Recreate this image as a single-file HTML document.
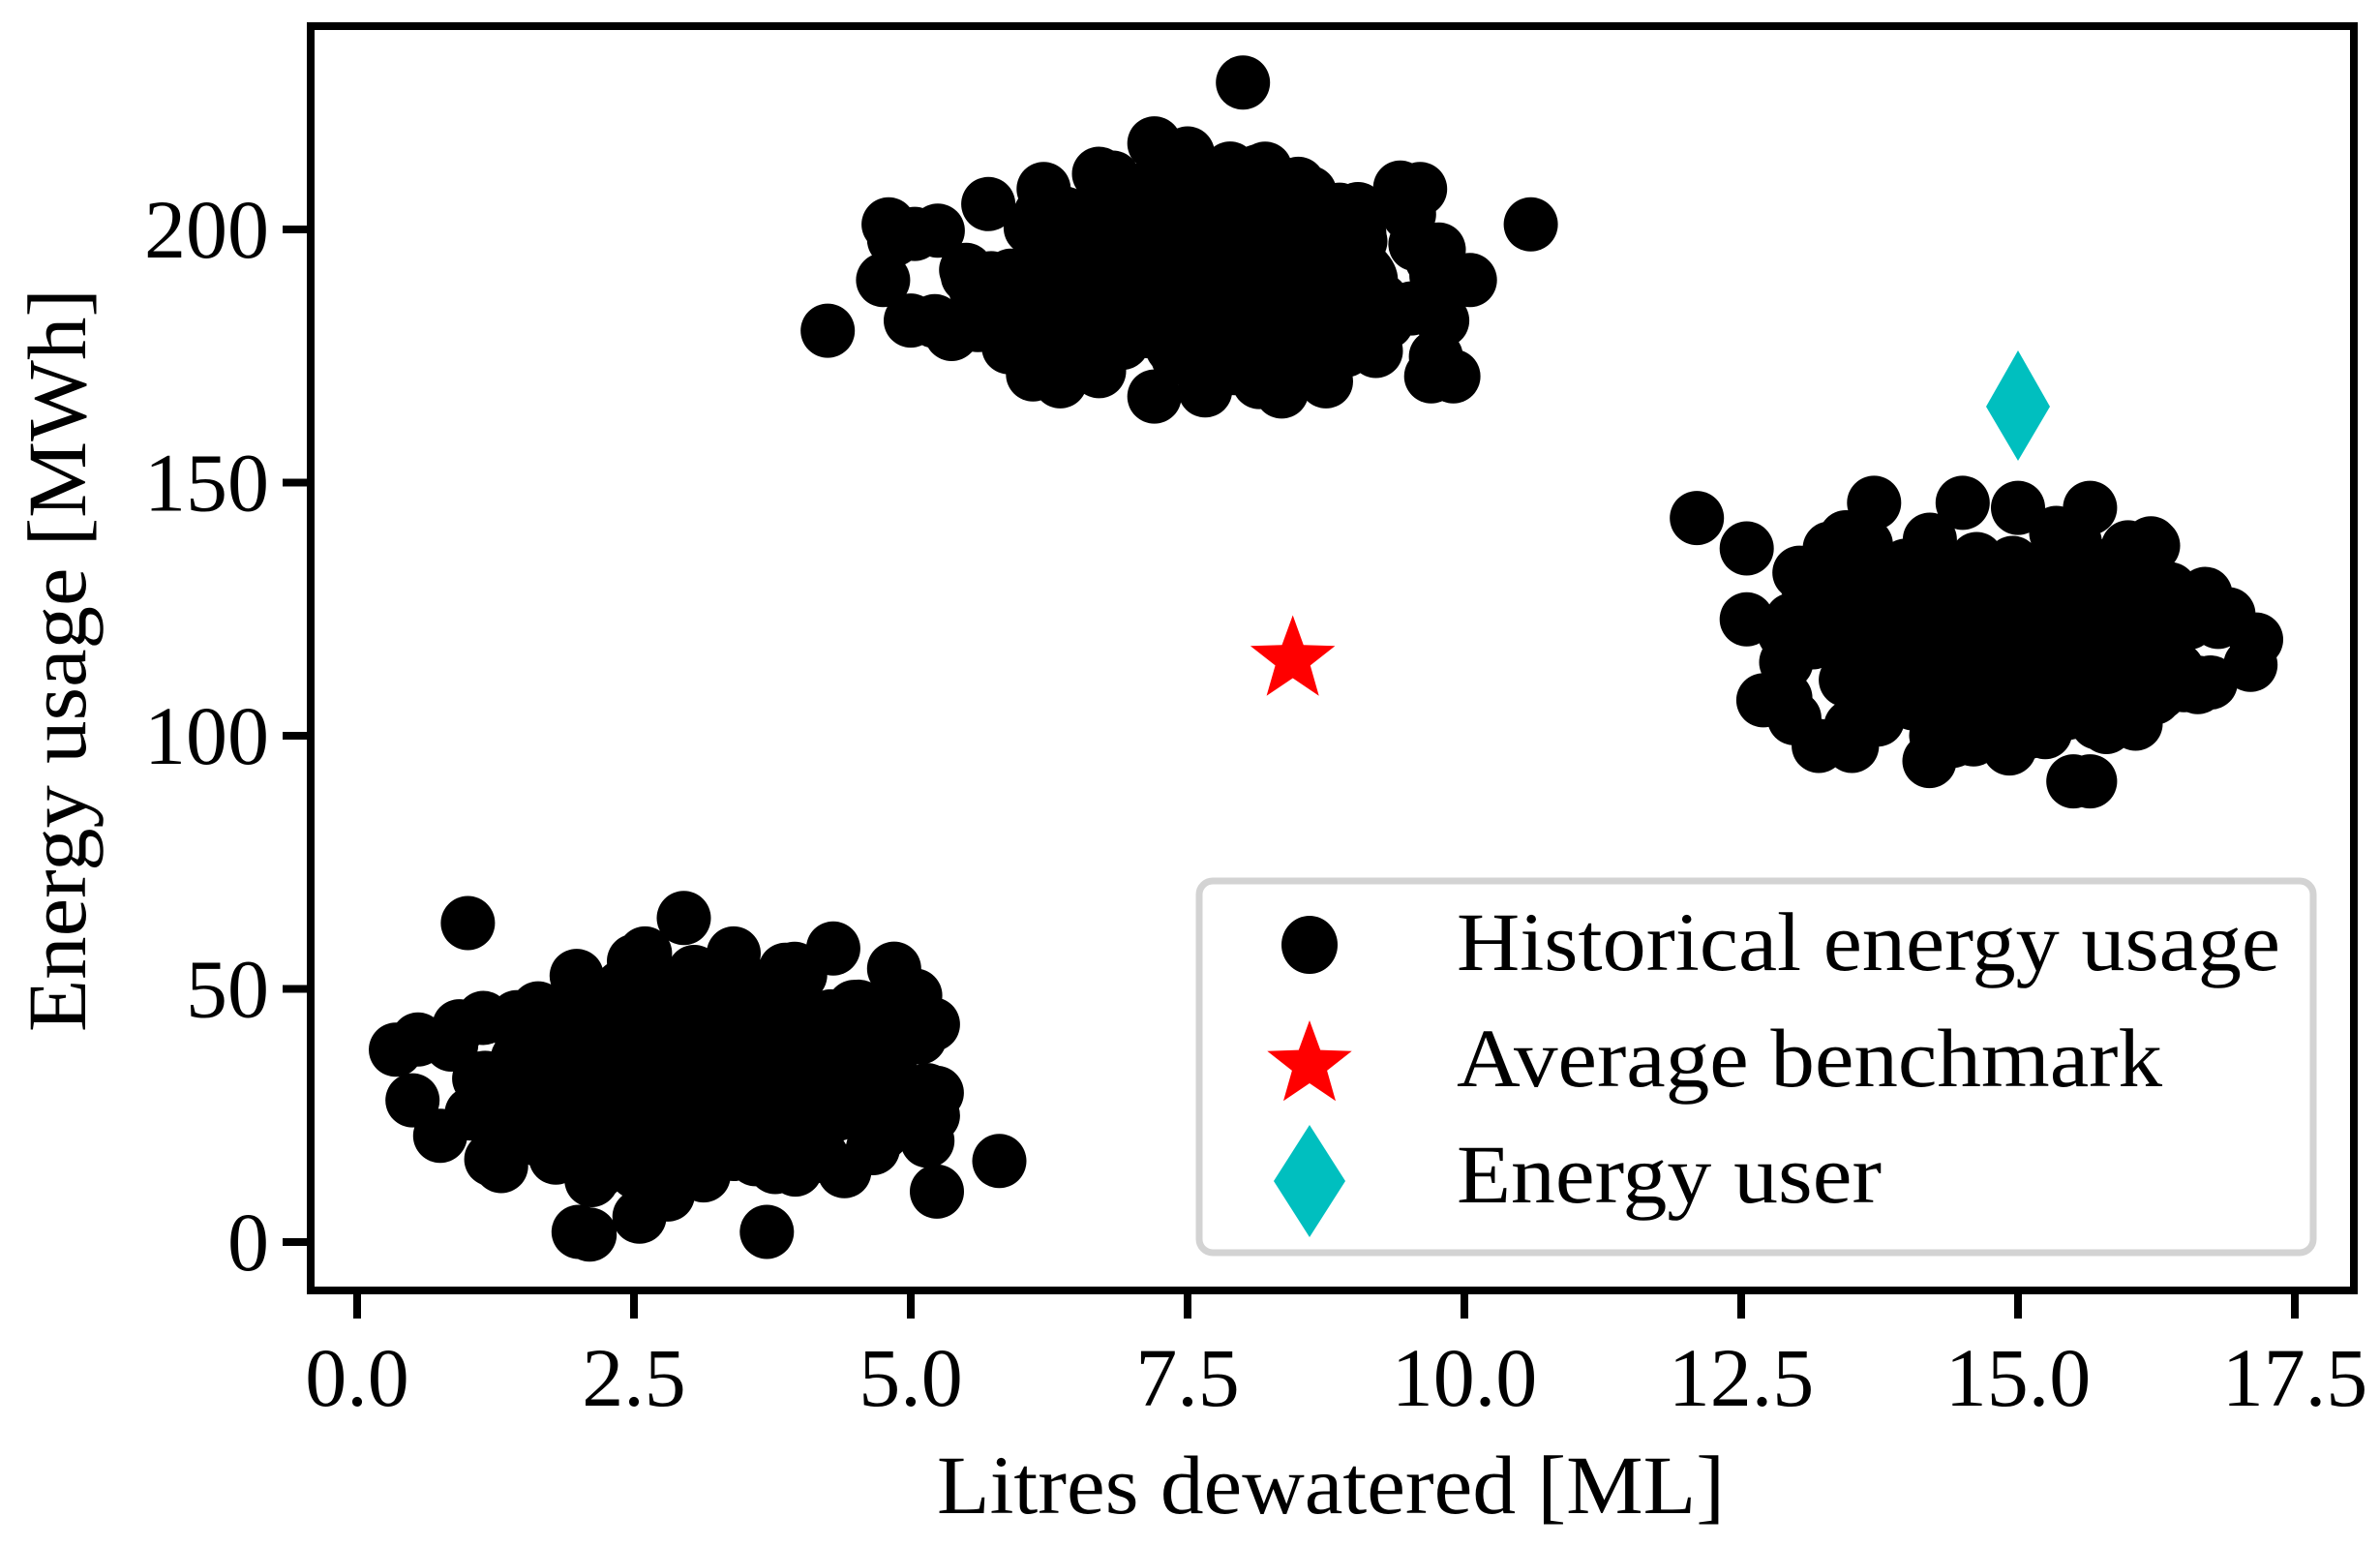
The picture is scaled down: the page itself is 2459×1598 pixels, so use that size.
<!DOCTYPE html>
<html><head><meta charset="utf-8">
<style>
html,body{margin:0;padding:0;background:#fff;}
svg{display:block;}
text{font-family:"Liberation Serif",serif;fill:#000;}
</style></head>
<body>
<svg id="s" width="2459" height="1598" viewBox="0 0 2459 1598" xmlns="http://www.w3.org/2000/svg">
<rect width="2459" height="1598" fill="#fff"/>
<defs><clipPath id="c"><rect x="321" y="27" width="2111" height="1306"/></clipPath></defs>
<g id="pts" clip-path="url(#c)"></g>
<polygon id="star" fill="#ff0000"/>
<polygon points="2085,362 2118,420 2085,476 2052,420" fill="#00bfbf"/>
<rect x="321" y="27" width="2111" height="1306" fill="none" stroke="#000" stroke-width="8"/>
<g stroke="#000" stroke-width="8" id="ticks"></g>
<g id="labels" font-size="86"></g>
<text x="968" y="1563" font-size="86" textLength="814" lengthAdjust="spacingAndGlyphs">Litres dewatered [ML]</text>
<text transform="translate(88,1066) rotate(-90)" font-size="86" textLength="768" lengthAdjust="spacingAndGlyphs">Energy usage [MWh]</text>
<rect x="1239" y="910" width="1151" height="384" rx="14" fill="#fff" fill-opacity="0.8" stroke="#d3d3d3" stroke-width="7"/>
<ellipse cx="1353" cy="976" rx="29" ry="30" fill="#000"/>
<polygon id="lstar" fill="#ff0000"/>
<polygon points="1353,1162 1390,1220 1353,1278 1316,1220" fill="#00bfbf"/>
<text x="1505" y="1002" font-size="86" textLength="851" lengthAdjust="spacingAndGlyphs">Historical energy usage</text>
<text x="1505" y="1122" font-size="86" textLength="729" lengthAdjust="spacingAndGlyphs">Average benchmark</text>
<text x="1505" y="1242" font-size="86" textLength="439" lengthAdjust="spacingAndGlyphs">Energy user</text>
</svg>
<script>
var NS="http://www.w3.org/2000/svg";
function X(x){return 369+114.4*x;}
function Y(y){return 1283-5.23*y;}
var seed=12345;
function rnd(){seed=(seed*1103515245+12345)%2147483648;return seed/2147483648;}
function gauss(){var u=rnd()||1e-9,v=rnd();return Math.sqrt(-2*Math.log(u))*Math.cos(2*Math.PI*v);}
var g=document.getElementById("pts");
function ell(x,y,rx,ry){var e=document.createElementNS(NS,"ellipse");e.setAttribute("cx",X(x));e.setAttribute("cy",Y(y));e.setAttribute("rx",rx*114.4);e.setAttribute("ry",ry*5.23);e.setAttribute("fill","#000");g.appendChild(e);}
ell(3.1,33,1.7,15);ell(7.6,190,1.8,16);ell(14.8,119,1.6,15);
function dot(x,y){var c=document.createElementNS(NS,"circle");c.setAttribute("cx",X(x).toFixed(1));c.setAttribute("cy",Y(y).toFixed(1));c.setAttribute("r","28");c.setAttribute("fill","#000");g.appendChild(c);}
function cluster(mx,sx,my,sy,n,xmin,xmax,ymin,ymax){for(var i=0;i<n;i++){var x=mx+sx*gauss(),y=my+sy*gauss();if(x<xmin||x>xmax||y<ymin||y>ymax){i--;continue;}dot(x,y);}}
cluster(3.1,0.95,33,9,360,0.6,5.3,8,56);
cluster(7.6,0.9,190,9,360,5.0,9.8,168,215);
cluster(14.8,0.85,119,9,360,12.8,16.9,97,143);
var extra=[[0.35,38],[0.55,40],[0.5,28],[0.75,21],[1.0,63],[0.85,39],[1.3,15],[2.0,2],[2.1,1.5],[2.55,5],[2.6,57],[2.95,64],[3.7,2],[3.4,57],[4.3,58],[4.85,54],[5.2,43],[5.15,30],[5.2,25],[5.15,20],[5.8,16],[4.4,14],
[4.25,180],[4.8,201],[4.85,198],[4.75,190],[5.0,182],[5.4,180],[5.5,192],[5.7,205],[8.0,229],[7.2,217],[7.5,215],[8.2,212],[8.5,209],[9.6,208],[10.6,201],[10.05,190],[9.8,182],[9.7,171],[9.9,171],[9.2,176],[8.75,170],[8.35,168],[7.2,167],[6.35,170],[6.7,172],[9.0,200],[9.5,203],[6.2,208],[6.7,211],
[12.1,143],[12.55,137],[12.55,123],[12.7,107],[13.2,98],[13.5,98],[14.2,95],[15.5,91],[15.65,91],[15.8,102],[16.5,110],[16.9,124],[17.15,119],[17.1,114],[15.65,145],[16.2,138],[13.7,146],[14.5,146],[15,145],[13.3,137]];
extra.forEach(function(p){dot(p[0],p[1]);});
function starPts(cx,cy,R,r){var s=[];for(var i=0;i<10;i++){var a=-Math.PI/2+i*Math.PI/5,rr=i%2?r:R;s.push((cx+rr*Math.cos(a)).toFixed(1)+","+(cy+rr*Math.sin(a)).toFixed(1));}return s.join(" ");}
document.getElementById("star").setAttribute("points",starPts(X(8.45),Y(115),46,19));
document.getElementById("lstar").setAttribute("points",starPts(1353,1100,46,19));
var t=document.getElementById("ticks"),L=document.getElementById("labels");
function line(x1,y1,x2,y2){var l=document.createElementNS(NS,"line");l.setAttribute("x1",x1);l.setAttribute("y1",y1);l.setAttribute("x2",x2);l.setAttribute("y2",y2);t.appendChild(l);}
function txt(x,y,s,a){var e=document.createElementNS(NS,"text");e.setAttribute("x",x);e.setAttribute("y",y);e.setAttribute("text-anchor",a);e.textContent=s;L.appendChild(e);}
["0.0","2.5","5.0","7.5","10.0","12.5","15.0","17.5"].forEach(function(s,i){var x=X(i*2.5);line(x,1333,x,1362);txt(x,1452,s,"middle");});
[0,50,100,150,200].forEach(function(v){var y=Y(v);line(321,y,292,y);txt(278,y+29,String(v),"end");});
</script>
</body></html>
